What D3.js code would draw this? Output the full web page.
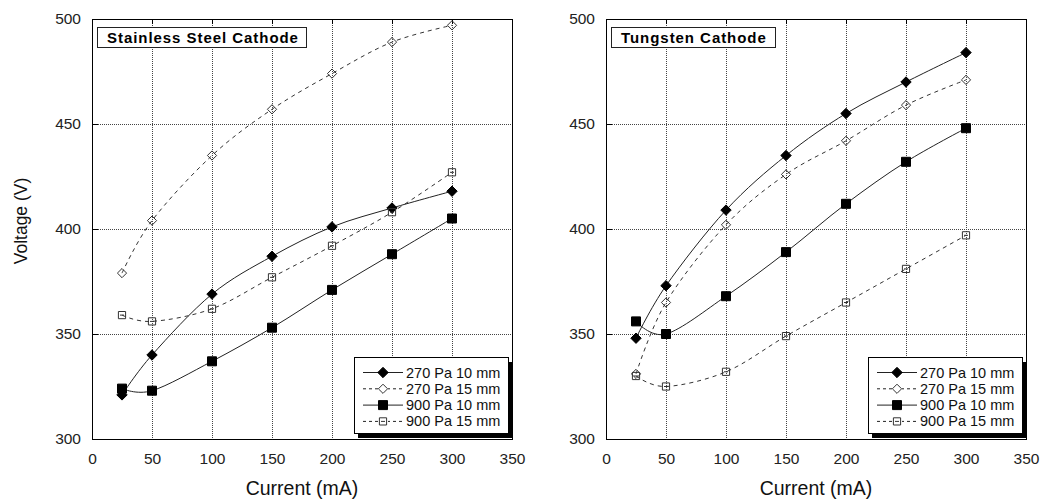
<!DOCTYPE html>
<html>
<head>
<meta charset="utf-8">
<script src="https://cdn.jsdelivr.net/npm/d3@7"></script>
<style>
  html, body { margin: 0; padding: 0; background: #fff; }
  svg { display: block; font-family: "Liberation Sans", Arial, sans-serif; }
</style>
</head>
<body>
<svg id="chart" width="1041" height="502"></svg>
<script>
// Discharge current (mA) at which voltage was measured
const currents = [25, 50, 100, 150, 200, 250, 300];

// Stainless steel cathode, voltage (V)
const steel270p10 = [321, 340, 369, 387, 401, 410, 418];
const steel270p15 = [379, 404, 435, 457, 474, 489, 497];
const steel900p10 = [324, 323, 337, 353, 371, 388, 405];
const steel900p15 = [359, 356, 362, 377, 392, 408, 427];

// Tungsten cathode, voltage (V)
const tung270p10 = [348, 373, 409, 435, 455, 470, 484];
const tung270p15 = [331, 365, 402, 426, 442, 459, 471];
const tung900p10 = [356, 350, 368, 389, 412, 432, 448];
const tung900p15 = [330, 325, 332, 349, 365, 381, 397];

const seriesNames = ["270 Pa 10 mm", "270 Pa 15 mm", "900 Pa 10 mm", "900 Pa 15 mm"];
const panelTitles = ["Stainless Steel Cathode", "Tungsten Cathode"];
const xTickValues = [0, 50, 100, 150, 200, 250, 300, 350];
const yTickValues = [300, 350, 400, 450, 500];
const xAxisTitle = "Current (mA)";
const yAxisTitle = "Voltage (V)";

// Per-series drawing style: marker shape, filled or hollow, solid or dashed line
const seriesStyle = [
  { shape: "diamond", filled: true,  dashed: false },
  { shape: "diamond", filled: false, dashed: true },
  { shape: "square",  filled: true,  dashed: false },
  { shape: "square",  filled: false, dashed: true }
];

const panels = [
  { left: 92,  title: panelTitles[0], titleW: 209, values: [steel270p10, steel270p15, steel900p10, steel900p15], yLabel: true },
  { left: 606, title: panelTitles[1], titleW: 164, values: [tung270p10, tung270p15, tung900p10, tung900p15], yLabel: false }
];

const svg = d3.select("#chart");
const plotW = 420, plotTop = 19, plotBottom = 439;
const ink = "#222";

function markerPath(shape, filled) {
  if (shape === "diamond") {
    const r = filled ? 5.2 : 4.6;
    return `M0,${-r}L${r},0L0,${r}L${-r},0Z`;
  }
  const h = filled ? 4.5 : 3.6;
  return `M${-h},${-h}H${h}V${h}H${-h}Z`;
}

function drawMarker(g, style, x, y) {
  g.append("path")
    .attr("d", markerPath(style.shape, style.filled))
    .attr("transform", `translate(${x},${y})`)
    .attr("fill", style.filled ? "#000" : "none")
    .attr("stroke", style.filled ? "#000" : "#333")
    .attr("stroke-width", 1);
  if (!style.filled && style.shape === "square") {
    g.append("line")
      .attr("x1", x - 2).attr("x2", x + 2)
      .attr("y1", y).attr("y2", y)
      .attr("stroke", "#333").attr("stroke-width", 1);
  }
}

panels.forEach(p => {
  const x = d3.scaleLinear().domain([0, 350]).range([p.left, p.left + plotW]);
  const y = d3.scaleLinear().domain([300, 500]).range([plotBottom, plotTop]);
  const g = svg.append("g");

  // dotted grid
  g.selectAll(".vgrid").data(xTickValues.filter(v => v > 0 && v < 350)).join("line")
    .attr("x1", d => x(d) + 0.5).attr("x2", d => x(d) + 0.5)
    .attr("y1", plotTop).attr("y2", plotBottom)
    .attr("stroke", "#444").attr("stroke-width", 1).attr("stroke-dasharray", "1,1");
  g.selectAll(".hgrid").data(yTickValues.filter(v => v > 300 && v < 500)).join("line")
    .attr("x1", p.left).attr("x2", p.left + plotW)
    .attr("y1", d => y(d) + 0.5).attr("y2", d => y(d) + 0.5)
    .attr("stroke", "#444").attr("stroke-width", 1).attr("stroke-dasharray", "1,1");

  // short inner ticks along the left and top edges
  g.selectAll(".ytk").data(yTickValues).join("line")
    .attr("x1", p.left).attr("x2", p.left + 6)
    .attr("y1", d => y(d) + 0.5).attr("y2", d => y(d) + 0.5)
    .attr("stroke", "#000");
  g.selectAll(".xtk").data(xTickValues).join("line")
    .attr("x1", d => x(d) + 0.5).attr("x2", d => x(d) + 0.5)
    .attr("y1", plotTop).attr("y2", plotTop + 5)
    .attr("stroke", "#000");

  // frame
  g.append("rect")
    .attr("x", p.left + 0.5).attr("y", plotTop + 0.5)
    .attr("width", plotW).attr("height", plotBottom - plotTop)
    .attr("fill", "none").attr("stroke", "#000").attr("stroke-width", 1);

  // axis tick labels through d3 axes (lines hidden, text kept)
  const xAxis = g.append("g")
    .attr("transform", `translate(0,${plotBottom})`)
    .call(d3.axisBottom(x).tickValues(xTickValues).tickSize(0).tickPadding(14));
  xAxis.select(".domain").remove();
  xAxis.selectAll("text").attr("font-size", 15.5).attr("fill", ink)
    .attr("font-family", "Liberation Sans, Arial, sans-serif");

  const yAxis = g.append("g")
    .attr("transform", `translate(${p.left},0)`)
    .call(d3.axisLeft(y).tickValues(yTickValues).tickSize(0).tickPadding(11));
  yAxis.select(".domain").remove();
  yAxis.selectAll("text").attr("font-size", 15.5).attr("fill", ink)
    .attr("font-family", "Liberation Sans, Arial, sans-serif");

  // x axis title
  g.append("text")
    .attr("x", x(175)).attr("y", 495)
    .attr("text-anchor", "middle")
    .attr("font-size", 19.5).attr("fill", "#111")
    .text(xAxisTitle);

  if (p.yLabel) {
    g.append("text")
      .attr("transform", `translate(27,${(plotTop + plotBottom) / 2 - 8}) rotate(-90)`)
      .attr("text-anchor", "middle")
      .attr("font-size", 17.5).attr("fill", "#111")
      .text(yAxisTitle);
  }

  // series lines (smoothed) and markers
  const line = d3.line()
    .x((d, i) => x(currents[i]))
    .y(d => y(d))
    .curve(d3.curveCatmullRom.alpha(0));

  p.values.forEach((vals, si) => {
    const st = seriesStyle[si];
    g.append("path")
      .datum(vals)
      .attr("d", line)
      .attr("fill", "none")
      .attr("stroke", st.dashed ? "#333" : "#222")
      .attr("stroke-width", 1)
      .attr("stroke-dasharray", st.dashed ? "4,4" : null);
  });
  p.values.forEach((vals, si) => {
    const st = seriesStyle[si];
    vals.forEach((v, i) => drawMarker(g, st, x(currents[i]), y(v)));
  });

  // panel title box
  const tb = g.append("g").attr("transform", `translate(${p.left + 5},27)`);
  tb.append("rect")
    .attr("x", 0.5).attr("y", 0.5).attr("width", p.titleW).attr("height", 20)
    .attr("fill", "#fff").attr("stroke", "#222").attr("stroke-width", 1);
  tb.append("text")
    .attr("x", 10).attr("y", 16)
    .attr("font-size", 15).attr("font-weight", "bold").attr("fill", "#000")
    .attr("letter-spacing", 0.95)
    .text(p.title);

  // legend with drop shadow
  const lx = p.left + 262, ly = 357, lw = 154, lh = 76;
  const lg = g.append("g");
  lg.append("rect").attr("x", lx + 4).attr("y", ly + 5).attr("width", lw).attr("height", lh)
    .attr("fill", "#000");
  lg.append("rect").attr("x", lx + 0.5).attr("y", ly + 0.5).attr("width", lw).attr("height", lh)
    .attr("fill", "#fff").attr("stroke", "#000").attr("stroke-width", 1);
  seriesNames.forEach((name, si) => {
    const st = seriesStyle[si];
    const yy = ly + 15.5 + si * 16.3;
    lg.append("line")
      .attr("x1", lx + 9).attr("x2", lx + 49)
      .attr("y1", yy).attr("y2", yy)
      .attr("stroke", "#222").attr("stroke-width", 1)
      .attr("stroke-dasharray", st.dashed ? "3,3" : null);
    if (!st.filled) {
      lg.append("rect").attr("x", lx + 24).attr("y", yy - 5).attr("width", 10).attr("height", 10).attr("fill", "#fff");
    }
    drawMarker(lg, st, lx + 29, yy);
    lg.append("text")
      .attr("x", lx + 52).attr("y", yy + 5)
      .attr("font-size", 14.5).attr("fill", "#111")
      .text(name);
  });
});
</script>
</body>
</html>
